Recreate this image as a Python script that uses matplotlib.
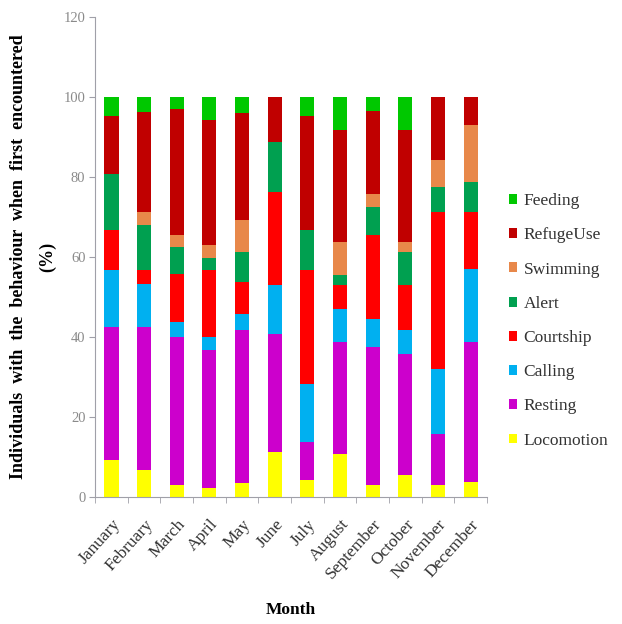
import numpy as np
import matplotlib.pyplot as plt

plt.rcParams['font.family'] = ['Liberation Serif', 'DejaVu Serif']

months = ["January", "February", "March", "April", "May", "June", "July",
          "August", "September", "October", "November", "December"]

# percentages per behaviour, bottom to top of each stack
locomotion = [9.2, 6.7, 2.9, 2.3, 3.5, 11.3, 4.3, 10.8, 2.9, 5.4, 2.9, 3.8]
resting    = [33.3, 35.8, 37.1, 34.5, 38.2, 29.5, 9.5, 28.0, 34.6, 30.4, 12.9, 35.0]
calling    = [14.3, 10.8, 3.8, 3.2, 4.1, 12.1, 14.5, 8.3, 7.1, 5.9, 16.3, 18.3]
courtship  = [9.9, 3.5, 12.0, 16.8, 8.0, 23.4, 28.5, 5.8, 20.8, 11.2, 39.2, 14.2]
alert      = [14.1, 11.1, 6.7, 3.0, 7.5, 12.5, 9.9, 2.5, 7.1, 8.3, 6.2, 7.5]
swimming   = [0, 3.4, 2.9, 3.1, 7.9, 0, 0, 8.3, 3.3, 2.5, 6.7, 14.2]
refugeuse  = [14.6, 25.0, 31.7, 31.3, 26.9, 11.2, 28.7, 28.0, 20.7, 28.0, 15.8, 7.1]
feeding    = [4.6, 3.7, 2.9, 5.8, 3.9, 0, 4.6, 8.3, 3.5, 8.3, 0, 0]

series = [("Locomotion", locomotion, "#FFFF00"),
          ("Resting", resting, "#CC00CC"),
          ("Calling", calling, "#00B0F0"),
          ("Courtship", courtship, "#FF0000"),
          ("Alert", alert, "#00A050"),
          ("Swimming", swimming, "#E8884A"),
          ("RefugeUse", refugeuse, "#C00000"),
          ("Feeding", feeding, "#00C800")]

fig = plt.figure(figsize=(6.22, 6.24), dpi=100)
ax = fig.add_axes([0.153, 0.2035, 0.630, 0.769])

x = np.arange(len(months))
bottom = np.zeros(len(months))
handles = []
for name, vals, col in series:
    vals = np.array(vals, dtype=float)
    h = ax.bar(x, vals, 0.43, bottom=bottom, color=col, label=name)
    handles.append(h)
    bottom += vals

ax.set_xlim(-0.5, len(months) - 0.5)
ax.set_ylim(0, 120)
ax.set_yticks(np.arange(0, 121, 20))

gray = "#A0A0A8"
for s in ["top", "right"]:
    ax.spines[s].set_visible(False)
for s in ["left", "bottom"]:
    ax.spines[s].set_color(gray)
    ax.spines[s].set_linewidth(0.8)

ax.set_xticks(x)
ax.set_xticklabels(months, rotation=48, ha="right", rotation_mode="anchor",
                   fontsize=12.5, color="#333333")
ax.set_xticks(np.arange(-0.5, len(months), 1), minor=True)
ax.tick_params(axis="x", which="major", length=0, pad=14)
ax.tick_params(axis="x", which="minor", length=4, color=gray)
ax.tick_params(axis="y", length=4, color=gray, labelsize=10.5,
               labelcolor="#8A8A8A", pad=3)

ax.set_ylabel("Individuals  with  the  behaviour  when  first  encountered\n(%)",
              fontsize=13, fontweight="bold", linespacing=1.9, labelpad=5)
ax.set_xlabel("Month", fontsize=12.5, fontweight="bold", labelpad=14)

leg = ax.legend(handles[::-1], [s[0] for s in series][::-1],
                loc="center left", bbox_to_anchor=(1.02, 0.367), frameon=False,
                fontsize=12.5, handlelength=0.5, handleheight=0.5,
                handletextpad=0.35, labelspacing=1.05, borderaxespad=0.4)
for t in leg.get_texts():
    t.set_color("#333333")

fig.savefig("out.png", dpi=100)
